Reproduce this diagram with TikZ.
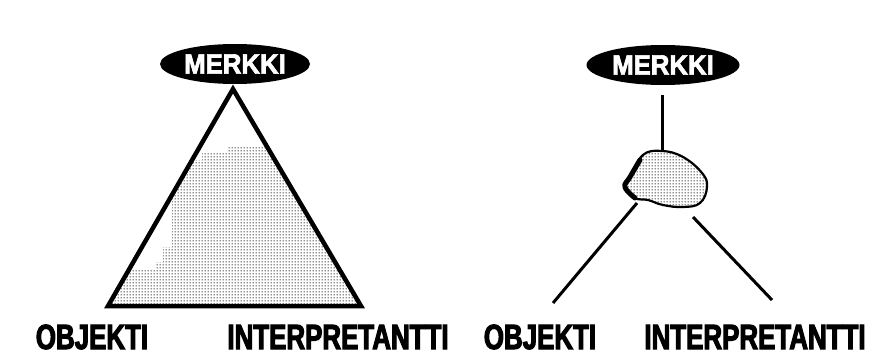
\documentclass[tikz,border=0pt]{standalone}
\usepackage{fontspec}
\usetikzlibrary{shapes.geometric,patterns}
\newfontfamily\labelfont[FakeStretch=0.74,FakeBold=3]{Liberation Sans Bold}
\newfontfamily\signfont[FakeStretch=0.92,FakeBold=2.5]{Liberation Sans Bold}
% dot screen, denser than the library's dots
\pgfdeclarepatternformonly{screendots}{\pgfqpoint{0pt}{0pt}}{\pgfqpoint{3pt}{3pt}}%
  {\pgfqpoint{3pt}{3pt}}{\pgfpathcircle{\pgfqpoint{1.5pt}{1.5pt}}{0.85pt}\pgfusepath{fill}}
\tikzset{
    % the dark oval with the sign's name
    signnode/.style={
        ellipse, fill=black, inner sep=0pt,
        minimum width=150pt, minimum height=40pt,
        text=white, font=\signfont\fontsize{28}{30}\selectfont
    },
    % corner labels
    cornernode/.style={
        inner sep=0pt, anchor=base,
        font=\labelfont\fontsize{35}{38}\selectfont
    },
    % stippled area
    stipple/.style={pattern=screendots, pattern color=black!85},
    sideline/.style={line width=4.5pt, line join=miter},
    legline/.style={line width=3pt},
}
\begin{document}
\begin{tikzpicture}[x=1pt,y=-1pt]
  \useasboundingbox (0,0) rectangle (875,356);

  % left: the triangle
  \node[signnode] (merkkiA) at (235,64) {MERKKI};
  \coordinate (apexA) at (233,89);
  \coordinate (objA) at (108,306);
  \coordinate (intA) at (361,306);
  \begin{scope}
    \clip (apexA) -- (objA) -- (intA) -- cycle;
    \fill[stipple] (227,147) -- (420,147) -- (420,312) -- (40,312)
      -- (40,270) -- (155,270) -- (155,262) -- (163,262) -- (163,247)
      -- (172,247) -- (172,172) -- (188,172) -- (188,160) -- (202,160)
      -- (202,152) -- (227,152) -- cycle;
  \end{scope}
  \draw[sideline] (apexA) -- (objA) -- (intA) -- cycle;

  \node[cornernode] (objlabelA) at (92,349) {OBJEKTI};
  \node[cornernode] (intlabelA) at (338,349) {INTERPRETANTTI};

  % right: the three lines meeting in a blob
  \node[signnode,minimum width=153pt] (merkkiB) at (663,65) {MERKKI};
  \coordinate (stemtop) at (662,95);
  \coordinate (stembot) at (662,153);
  \draw[legline] (stemtop) -- (stembot);

  \fill[white] plot[smooth cycle,tension=0.7] coordinates {(643,155) (662,151)
    (683,157) (702,173) (707,187) (700,203) (683,207) (663,205) (648,200)
    (635,198) (625,187) (630,177)};
  \fill[stipple] plot[smooth cycle,tension=0.7] coordinates {(643,155) (662,151)
    (683,157) (702,173) (707,187) (700,203) (683,207) (663,205) (648,200)
    (635,198) (625,187) (630,177)};
  \draw[line width=2.2pt] plot[smooth cycle,tension=0.7] coordinates {(643,155) (662,151)
    (683,157) (702,173) (707,187) (700,203) (683,207) (663,205) (648,200)
    (635,198) (625,187) (630,177)};
  \draw[line width=5pt,line cap=round] plot[smooth,tension=0.7] coordinates {(640,160)
    (630,177) (625,187) (635,198)};

  \coordinate (legAtop) at (637,203);
  \coordinate (legAend) at (553,303);
  \coordinate (legBtop) at (693,217);
  \coordinate (legBend) at (772,300);
  \draw[legline] (legAtop) -- (legAend);
  \draw[legline] (legBtop) -- (legBend);

  \node[cornernode] (objlabelB) at (540,349) {OBJEKTI};
  \node[cornernode] (intlabelB) at (755,349) {INTERPRETANTTI};
\end{tikzpicture}
\end{document}
